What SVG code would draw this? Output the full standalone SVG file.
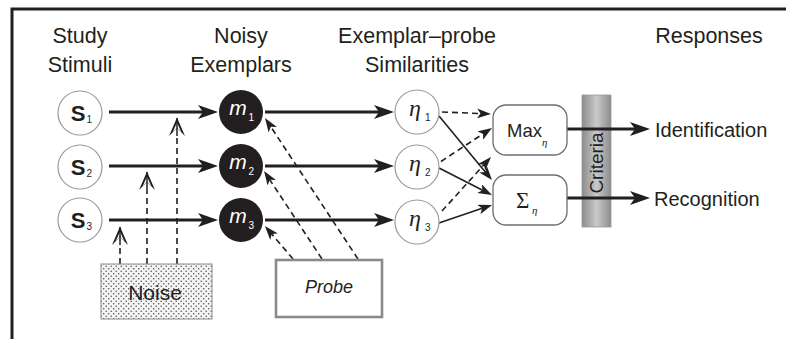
<svg xmlns="http://www.w3.org/2000/svg" width="786" height="339" viewBox="0 0 786 339">
  <defs>
    <style>
      .t { font-family: "Liberation Sans", Arial, sans-serif; fill: #231f20; }
      .title { font-size: 21.5px; text-anchor: middle; }
      .resp { font-size: 20px; }
      .open { fill: #ffffff; stroke: #9a9a9a; stroke-width: 1.2; }
      .dark { fill: #231f20; stroke: none; }
      .sub { font-family: "Liberation Sans", Arial, sans-serif; font-size: 10px; }
      .eta { font-family: "Liberation Serif", "Times New Roman", serif; font-style: italic; fill: #231f20; }
      .thick { stroke: #231f20; stroke-width: 3; fill: none; marker-end: url(#big); }
      .dash { stroke: #231f20; stroke-width: 1.6; fill: none; stroke-dasharray: 6 4; }
      .thin { stroke: #231f20; stroke-width: 1.6; fill: none; marker-end: url(#mid); }
      .box { fill: #ffffff; stroke: #6d6d6d; stroke-width: 1.3; }
    </style>
    <marker id="big" markerUnits="userSpaceOnUse" viewBox="0 0 20 14" markerWidth="20" markerHeight="14" refX="14" refY="7" orient="auto">
      <path d="M20,7 L0,0 L5,7 L0,14 Z" fill="#231f20"/>
    </marker>
    <marker id="mid" markerUnits="userSpaceOnUse" viewBox="0 0 14 10" markerWidth="14" markerHeight="10" refX="9" refY="5" orient="auto">
      <path d="M14,5 L0,0 L3.5,5 L0,10 Z" fill="#231f20"/>
    </marker>
    <marker id="noiseHead" markerUnits="userSpaceOnUse" viewBox="0 0 19 18" markerWidth="19" markerHeight="18" refX="0" refY="9" orient="auto">
      <path d="M18.5,9 L0,1 L8,9 L0,17 Z" fill="#231f20"/>
      <path d="M13.5,9 L3.5,4.6 L8.6,9 L3.5,13.4 Z" fill="#ffffff"/>
      <path d="M0,9 L18,9" stroke="#231f20" stroke-width="1.5"/>
    </marker>
    <pattern id="stipple" patternUnits="userSpaceOnUse" width="5" height="5">
      <rect width="5" height="5" fill="#f4f4f4"/>
      <circle cx="1.2" cy="1.2" r="0.75" fill="#4a4a4a"/>
      <circle cx="3.7" cy="3.7" r="0.75" fill="#4a4a4a"/>
    </pattern>
    <linearGradient id="critGrad" x1="0" y1="0" x2="1" y2="0">
      <stop offset="0" stop-color="#8c8c8c"/>
      <stop offset="0.5" stop-color="#c9c9cb"/>
      <stop offset="1" stop-color="#8c8c8c"/>
    </linearGradient>
  </defs>

  <rect width="786" height="339" fill="#ffffff"/>

  <!-- frame -->
  <path d="M12,339 L12,9 L786,9" fill="none" stroke="#231f20" stroke-width="3"/>

  <!-- titles -->
  <g id="titles">
    <text class="t title" x="80" y="43">Study</text>
    <text class="t title" x="80" y="72">Stimuli</text>
    <text class="t title" x="241" y="43">Noisy</text>
    <text class="t title" x="241" y="72">Exemplars</text>
    <text class="t title" x="417" y="43">Exemplar–probe</text>
    <text class="t title" x="417" y="72">Similarities</text>
    <text class="t title" x="709" y="43">Responses</text>
  </g>

  <!-- criteria bar -->
  <g id="criteria">
    <rect x="582" y="95" width="29" height="132" fill="url(#critGrad)" stroke="#9a9a9a" stroke-width="0.8"/>
    <text class="t" font-size="19" fill="#333333" text-anchor="middle" transform="translate(603,163) rotate(-90)">Criteria</text>
  </g>

  <!-- connectors -->
  <g id="connectors">
    <line class="thick" x1="109" y1="112" x2="212" y2="112"/>
    <line class="thick" x1="109" y1="166" x2="212" y2="166"/>
    <line class="thick" x1="109" y1="220" x2="212" y2="220"/>
    <line class="thick" x1="265" y1="112" x2="388" y2="112"/>
    <line class="thick" x1="265" y1="166" x2="388" y2="166"/>
    <line class="thick" x1="265" y1="220" x2="388" y2="220"/>
    <line class="dash" stroke-width="2" x1="120" y1="264" x2="120" y2="245" marker-end="url(#noiseHead)"/>
    <line class="dash" stroke-width="2" x1="147" y1="264" x2="147" y2="190" marker-end="url(#noiseHead)"/>
    <line class="dash" stroke-width="2" x1="177" y1="264" x2="177" y2="136" marker-end="url(#noiseHead)"/>
    <line class="dash" x1="293" y1="259" x2="268.2" y2="229.8" marker-end="url(#mid)"/>
    <line class="dash" x1="322" y1="259" x2="266.8" y2="175.2" marker-end="url(#mid)"/>
    <line class="dash" x1="358" y1="259" x2="267.8" y2="122.2" marker-end="url(#mid)"/>
    <line class="dash" x1="442" y1="112" x2="486" y2="113.8" marker-end="url(#mid)"/>
    <line class="dash" x1="441" y1="161.5" x2="487.8" y2="130.7" marker-end="url(#mid)"/>
    <line class="dash" x1="442" y1="211" x2="487.6" y2="160.7" marker-end="url(#mid)"/>
    <line class="thin" x1="439" y1="116" x2="488.8" y2="176.2"/>
    <line class="thin" x1="439" y1="168" x2="487.5" y2="192.7"/>
    <line class="thin" x1="439" y1="223" x2="487.3" y2="206.6"/>
    <line class="thick" x1="567" y1="129" x2="644" y2="129"/>
    <line class="thick" x1="567" y1="198" x2="644" y2="198"/>
  </g>

  <!-- stimuli -->
  <g id="s1">
    <circle class="open" cx="80" cy="113" r="22"/>
    <text class="t" font-size="22" font-weight="bold" x="78" y="121" text-anchor="middle">S</text>
    <text class="t sub" x="86.5" y="123">1</text>
  </g>
  <g id="s2">
    <circle class="open" cx="80" cy="167" r="22"/>
    <text class="t" font-size="22" font-weight="bold" x="78" y="175" text-anchor="middle">S</text>
    <text class="t sub" x="86.5" y="177">2</text>
  </g>
  <g id="s3">
    <circle class="open" cx="80" cy="220" r="22"/>
    <text class="t" font-size="22" font-weight="bold" x="78" y="228" text-anchor="middle">S</text>
    <text class="t sub" x="86.5" y="230">3</text>
  </g>

  <!-- exemplars -->
  <g id="m1">
    <circle class="dark" cx="241" cy="112" r="22"/>
    <text font-family="Liberation Sans, Arial, sans-serif" font-style="italic" font-size="21" fill="#ffffff" x="238" y="115" text-anchor="middle">m</text>
    <text class="sub" fill="#ffffff" x="248.5" y="121">1</text>
  </g>
  <g id="m2">
    <circle class="dark" cx="241" cy="166" r="22"/>
    <text font-family="Liberation Sans, Arial, sans-serif" font-style="italic" font-size="21" fill="#ffffff" x="238" y="169" text-anchor="middle">m</text>
    <text class="sub" fill="#ffffff" x="248.5" y="175">2</text>
  </g>
  <g id="m3">
    <circle class="dark" cx="241" cy="220" r="22"/>
    <text font-family="Liberation Sans, Arial, sans-serif" font-style="italic" font-size="21" fill="#ffffff" x="238" y="223" text-anchor="middle">m</text>
    <text class="sub" fill="#ffffff" x="248.5" y="229">3</text>
  </g>

  <!-- similarities -->
  <g id="eta1">
    <circle class="open" cx="417" cy="112" r="22"/>
    <text class="eta" font-size="24" x="415" y="116" text-anchor="middle">η</text>
    <text class="t sub" x="425" y="121">1</text>
  </g>
  <g id="eta2">
    <circle class="open" cx="417" cy="167" r="22"/>
    <text class="eta" font-size="24" x="415" y="171" text-anchor="middle">η</text>
    <text class="t sub" x="425" y="176">2</text>
  </g>
  <g id="eta3">
    <circle class="open" cx="417" cy="222" r="22"/>
    <text class="eta" font-size="24" x="415" y="226" text-anchor="middle">η</text>
    <text class="t sub" x="425" y="231">3</text>
  </g>

  <!-- decision boxes -->
  <g id="max">
    <rect class="box" x="493" y="105" width="74" height="50" rx="13"/>
    <text class="t" font-size="18.5" x="507" y="137">Max</text>
    <text class="eta" font-size="11" x="542" y="146">η</text>
  </g>
  <g id="sum">
    <rect class="box" x="493" y="175" width="74" height="50" rx="13"/>
    <text font-family="Liberation Serif, Times New Roman, serif" font-size="23" fill="#231f20" x="516" y="208">Σ</text>
    <text class="eta" font-size="11" x="532" y="214">η</text>
  </g>

  <!-- responses -->
  <g id="identification">
    <text class="t resp" x="655" y="137">Identification</text>
  </g>
  <g id="recognition">
    <text class="t resp" x="654" y="206">Recognition</text>
  </g>

  <!-- noise -->
  <g id="noise">
    <rect x="101" y="264" width="111" height="55" fill="url(#stipple)" stroke="#8a8a8a" stroke-width="1"/>
    <text class="t" font-size="21" fill="#3a3a3a" x="155" y="300" text-anchor="middle">Noise</text>
  </g>

  <!-- probe -->
  <g id="probe">
    <rect x="276" y="260" width="106" height="57" fill="#ffffff" stroke="#8a8a8a" stroke-width="2.6"/>
    <text class="t" font-size="18" font-style="italic" x="329" y="293" text-anchor="middle">Probe</text>
  </g>
</svg>
